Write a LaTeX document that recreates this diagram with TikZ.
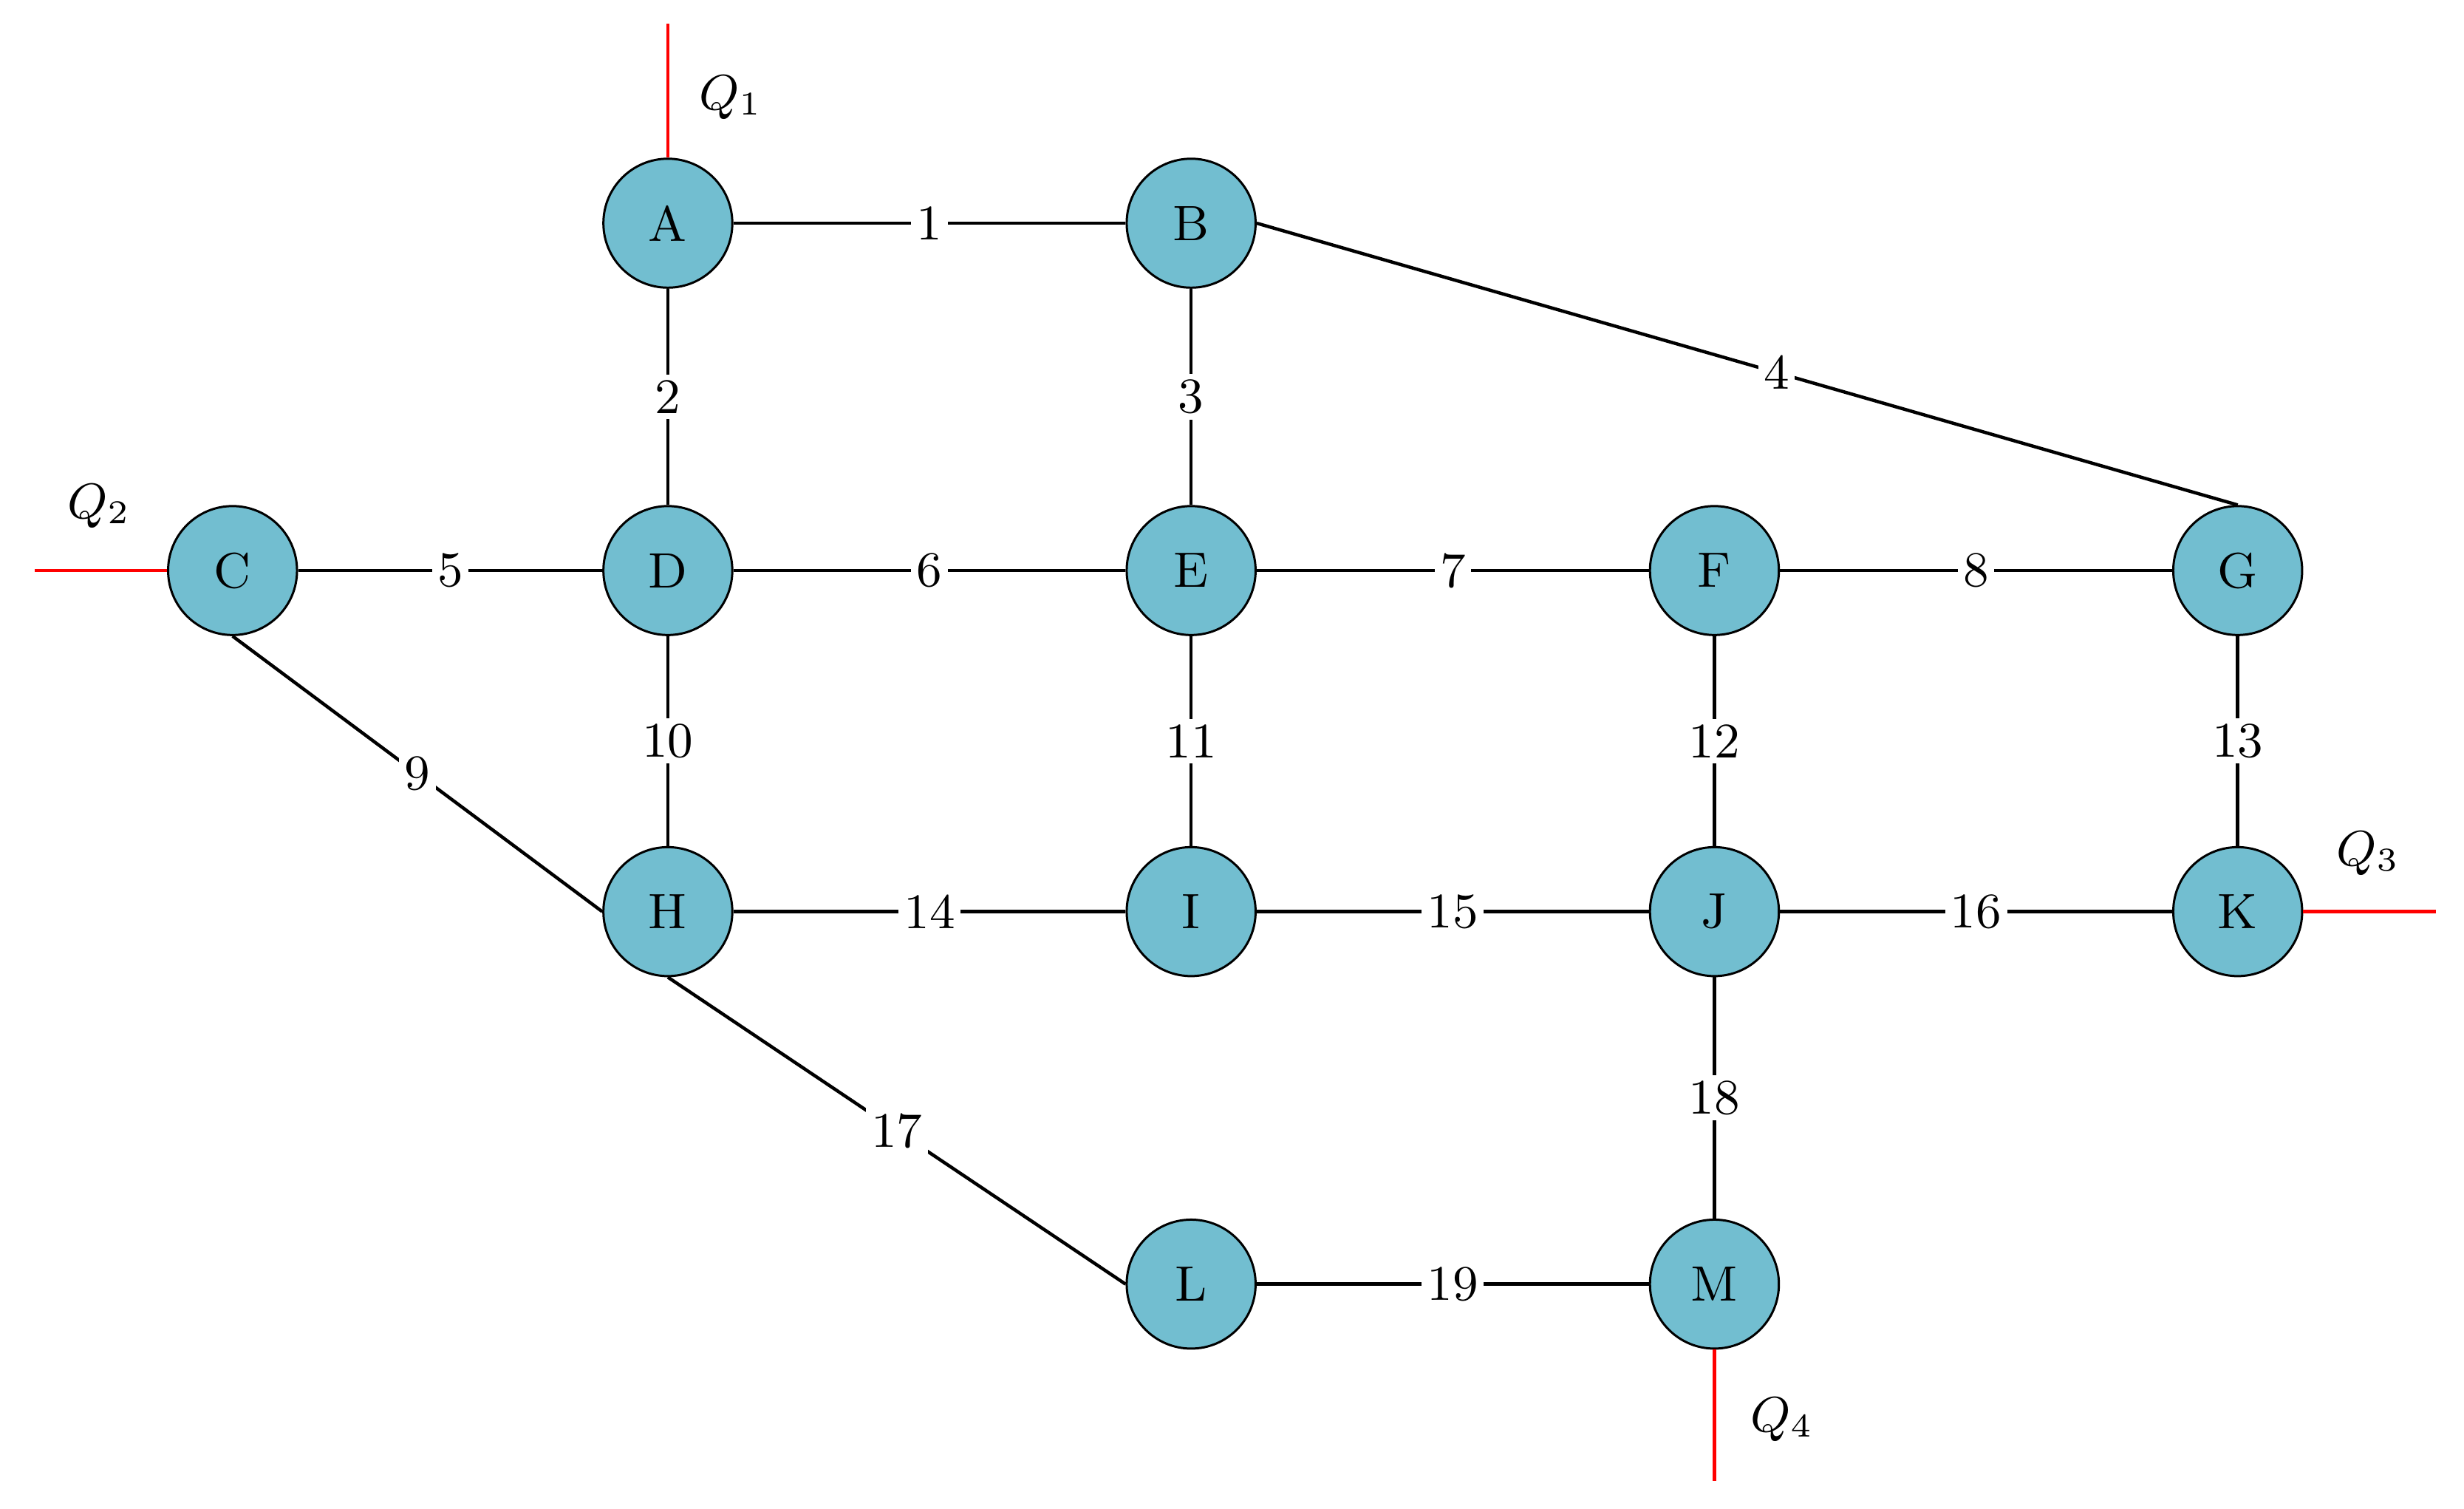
\documentclass[tikz,border=0pt]{standalone}
\begin{document}
\begin{tikzpicture}[x=0.01cm,y=-0.01cm,
  nd/.style={circle,draw=black,fill=cyan!45!teal!40!white,fill={rgb,255:red,114;green,190;blue,208},minimum size=0.82cm,inner sep=0pt,font=\fontsize{9}{10}\selectfont,line width=0.4pt},
  ed/.style={line width=0.6pt},
  lb/.style={fill=white,inner sep=1pt,font=\fontsize{9}{10}\selectfont},
  src/.style={red,line width=0.6pt},
  ql/.style={font=\fontsize{9}{10}\selectfont}]
\useasboundingbox (0,0) rectangle (1568,960);
\node[nd] (A) at (425,142) {A};
\node[nd] (B) at (758,142) {B};
\node[nd] (C) at (148,363) {C};
\node[nd] (D) at (425,363) {D};
\node[nd] (E) at (758,363) {E};
\node[nd] (F) at (1091,363) {F};
\node[nd] (G) at (1424,363) {G};
\node[nd] (H) at (425,580) {H};
\node[nd] (I) at (758,580) {I};
\node[nd] (J) at (1091,580) {J};
\node[nd] (K) at (1424,580) {K};
\node[nd] (L) at (758,817) {L};
\node[nd] (M) at (1091,817) {M};
\coordinate (q1) at (425,15);
\coordinate (q2) at (22,363);
\coordinate (q3) at (1550,580);
\coordinate (q4) at (1091,942);
\draw[src] (A) -- (q1);
\draw[src] (C) -- (q2);
\draw[src] (K) -- (q3);
\draw[src] (M) -- (q4);
\node[ql] (lq1) at (465,62) {$Q_1$};
\node[ql] (lq2) at (63,322) {$Q_2$};
\node[ql] (lq3) at (1507,543) {$Q_3$};
\node[ql] (lq4) at (1134,903) {$Q_4$};
\draw[ed] (A) -- node[lb]{1} (B);
\draw[ed] (A) -- node[lb]{2} (D);
\draw[ed] (B) -- node[lb]{3} (E);
\draw[ed] (B.east) -- node[lb,pos=0.53]{4} (G.north);
\draw[ed] (C) -- node[lb]{5} (D);
\draw[ed] (D) -- node[lb]{6} (E);
\draw[ed] (E) -- node[lb]{7} (F);
\draw[ed] (F) -- node[lb]{8} (G);
\draw[ed] (C.south) -- node[lb]{9} (H.west);
\draw[ed] (D) -- node[lb]{10} (H);
\draw[ed] (E) -- node[lb]{11} (I);
\draw[ed] (F) -- node[lb]{12} (J);
\draw[ed] (G) -- node[lb]{13} (K);
\draw[ed] (H) -- node[lb]{14} (I);
\draw[ed] (I) -- node[lb]{15} (J);
\draw[ed] (J) -- node[lb]{16} (K);
\draw[ed] (H.south) -- node[lb]{17} (L.west);
\draw[ed] (J) -- node[lb]{18} (M);
\draw[ed] (L) -- node[lb]{19} (M);
\end{tikzpicture}
\end{document}
